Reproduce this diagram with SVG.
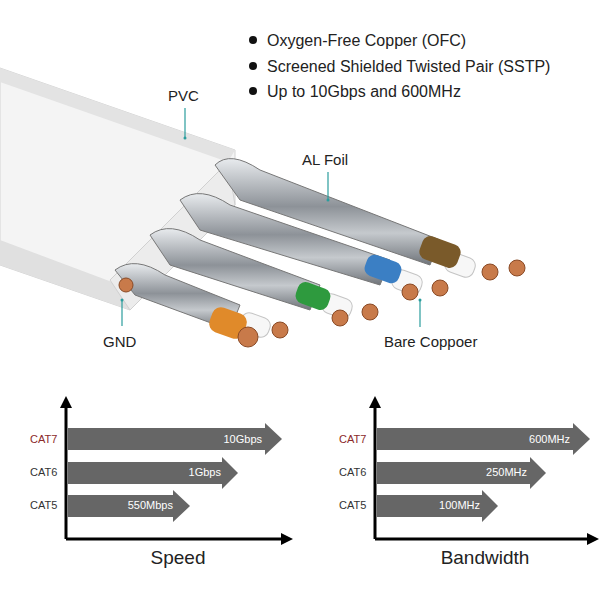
<svg xmlns="http://www.w3.org/2000/svg" width="600" height="600" viewBox="0 0 600 600">
<style>
.t{font-family:"Liberation Sans",Arial,sans-serif;fill:#222}
.s{font-family:"Liberation Sans",Arial,sans-serif;font-size:11px;fill:#333}
.r{fill:#8b2a2a}
.v{font-family:"Liberation Sans",Arial,sans-serif;font-size:11px;fill:#fff}
.bar{fill:#666}
.ax{stroke:#000;stroke-width:3;fill:none}
.lead{stroke:#2a9d9d;stroke-width:1.2;fill:none}
.wh{fill:#f7f7f7;stroke:#c4c4c4}
.cu{fill:#c87a4a;stroke:#8a4a25}
</style>
<defs>
<marker id="ah" viewBox="0 0 10 10" refX="5" refY="5" markerWidth="4" markerHeight="4" orient="auto"><path d="M0,0L10,5L0,10z" fill="#000"/></marker>
<linearGradient id="sh" x1="0" y1="0" x2="0" y2="1"><stop offset="0" stop-color="#e8ebee"/><stop offset="0.45" stop-color="#8d9298"/><stop offset="0.7" stop-color="#c5c9cd"/><stop offset="1" stop-color="#6f747a"/></linearGradient>
</defs>
<rect width="600" height="600" fill="#fff"/>
<g id="bullets">
<circle cx="253" cy="40" r="4" fill="#111"/><text class="t" x="267" y="46" font-size="16">Oxygen-Free Copper (OFC)</text>
<circle cx="253" cy="66" r="4" fill="#111"/><text class="t" x="267" y="72" font-size="16">Screened Shielded Twisted Pair (SSTP)</text>
<circle cx="253" cy="91" r="4" fill="#111"/><text class="t" x="267" y="97" font-size="16">Up to 10Gbps and 600MHz</text>
</g>
<g id="cable">
<path d="M0,68 L235,150 L235,205 L130,310 L0,265 Z" fill="#f4f4f4" stroke="#d4d4d4"/>
<path d="M0,68 L235,150 L228,162 L0,82 Z" fill="#e3e3e3"/>
<path d="M0,240 L120,285 L130,310 L0,265Z" fill="#e0e0e0"/>
<path d="M228,162 L235,205 L130,310 L110,280 Z" fill="#ececec" stroke="#d0d0d0"/>
<g id="pair1"><path d="M215,165 Q230,150 260,170 L440,240 L430,265 L240,200 Z" fill="url(#sh)" stroke="#777"/>
<rect x="445" y="255" width="30" height="20" rx="8" class="wh" transform="rotate(20 460 265)"/>
<rect x="420" y="240" width="40" height="24" rx="8" fill="#7a5a2a" transform="rotate(20 440 252)"/>
<circle cx="490" cy="272" r="8" class="cu"/><circle cx="517" cy="268" r="8" class="cu"/></g>
<g id="pair2"><path d="M180,200 Q200,185 230,205 L390,260 L380,285 L200,230 Z" fill="url(#sh)" stroke="#777"/>
<rect x="392" y="272" width="30" height="20" rx="8" class="wh" transform="rotate(20 407 282)"/>
<rect x="365" y="258" width="36" height="22" rx="8" fill="#3b7fc4" transform="rotate(20 383 269)"/>
<circle cx="410" cy="292" r="8" class="cu"/><circle cx="440" cy="288" r="8" class="cu"/></g>
<g id="pair3"><path d="M150,235 Q170,220 200,240 L320,285 L310,310 L170,265 Z" fill="url(#sh)" stroke="#777"/>
<rect x="322" y="296" width="30" height="20" rx="8" class="wh" transform="rotate(20 337 306)"/>
<rect x="296" y="285" width="34" height="22" rx="8" fill="#2e9a3e" transform="rotate(20 313 296)"/>
<circle cx="340" cy="318" r="8" class="cu"/><circle cx="370" cy="312" r="8" class="cu"/></g>
<g id="pair4"><path d="M115,270 Q135,255 165,275 L240,305 L230,330 L135,295 Z" fill="url(#sh)" stroke="#777"/>
<rect x="240" y="315" width="30" height="20" rx="8" class="wh" transform="rotate(20 255 325)"/>
<rect x="210" y="310" width="36" height="26" rx="9" fill="#e08a2a" transform="rotate(20 228 323)"/>
<circle cx="248" cy="337" r="10" class="cu"/><circle cx="280" cy="330" r="8" class="cu"/></g>
<circle cx="126" cy="285" r="7" class="cu"/>
</g>
<g id="labels">
<text class="t" x="168" y="101" font-size="15">PVC</text><path class="lead" d="M185,108 V138"/><circle cx="185" cy="138" r="1.5" fill="#2a9d9d"/>
<text class="t" x="302" y="165" font-size="15">AL Foil</text><path class="lead" d="M328,172 V200"/><circle cx="328" cy="200" r="1.5" fill="#2a9d9d"/>
<text class="t" x="103" y="347" font-size="15">GND</text><path class="lead" d="M122,326 V300"/><circle cx="122" cy="300" r="1.5" fill="#2a9d9d"/>
<text class="t" x="384" y="347" font-size="15">Bare Coppoer</text><path class="lead" d="M420,327 V300"/><circle cx="420" cy="300" r="1.5" fill="#2a9d9d"/>
</g>
<g id="speed">
<path class="ax" d="M66,539 V402" marker-end="url(#ah)"/><path class="ax" d="M66,539 H287" marker-end="url(#ah)"/>
<path class="bar" d="M68,428 H265 V423 L282,439 L265,455 V450 H68Z"/>
<path class="bar" d="M68,462 H222 V457 L238,473 L222,489 V484 H68Z"/>
<path class="bar" d="M68,495 H173 V490 L190,506 L173,522 V517 H68Z"/>
<text class="v" x="262" y="443" text-anchor="end">10Gbps</text>
<text class="v" x="221" y="476" text-anchor="end">1Gbps</text>
<text class="v" x="173" y="509" text-anchor="end">550Mbps</text>
<text class="s r" x="30" y="443">CAT7</text>
<text class="s" x="30" y="476">CAT6</text>
<text class="s" x="30" y="509">CAT5</text>
<text class="t" x="178" y="564" font-size="19" text-anchor="middle">Speed</text>
</g>
<g id="bandwidth">
<path class="ax" d="M375,539 V402" marker-end="url(#ah)"/><path class="ax" d="M375,539 H593" marker-end="url(#ah)"/>
<path class="bar" d="M377,428 H573 V423 L590,439 L573,455 V450 H377Z"/>
<path class="bar" d="M377,462 H530 V457 L546,473 L530,489 V484 H377Z"/>
<path class="bar" d="M377,495 H482 V490 L498,506 L482,522 V517 H377Z"/>
<text class="v" x="570" y="443" text-anchor="end">600MHz</text>
<text class="v" x="527" y="476" text-anchor="end">250MHz</text>
<text class="v" x="480" y="509" text-anchor="end">100MHz</text>
<text class="s r" x="339" y="443">CAT7</text>
<text class="s" x="339" y="476">CAT6</text>
<text class="s" x="339" y="509">CAT5</text>
<text class="t" x="485" y="564" font-size="19" text-anchor="middle">Bandwidth</text>
</g>
</svg>
